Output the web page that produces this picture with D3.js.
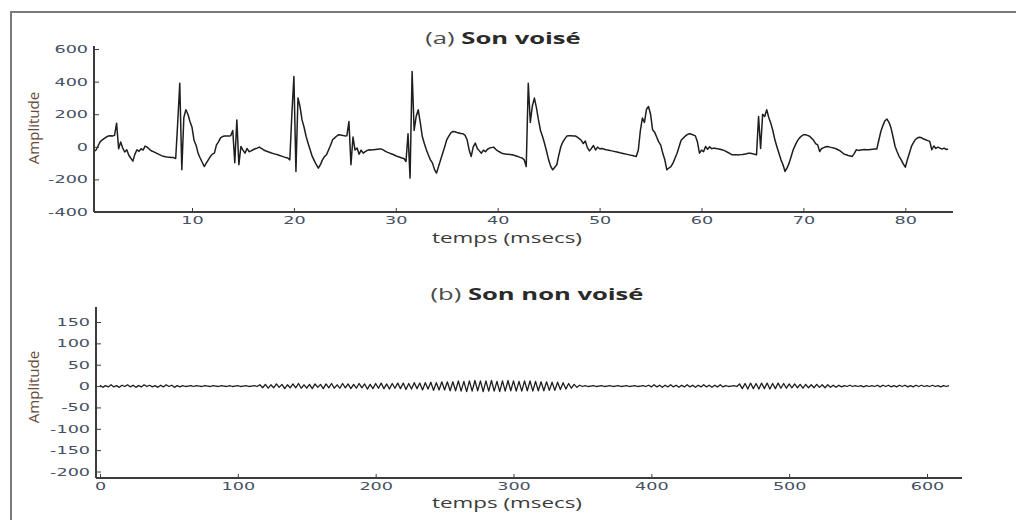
<!DOCTYPE html>
<html>
<head>
<meta charset="utf-8">
<script src="https://cdn.jsdelivr.net/npm/d3@7"></script>
<style>
  html, body { margin: 0; padding: 0; background: #fff; }
  svg { display: block; }
</style>
</head>
<body>
<svg id="chart" width="1016" height="520"></svg>
<script>
// ---- (a) voiced sound: samples every 0.2 ms starting at 0.4 ms ----
const voicedStartMs = 0.4;
const voicedStepMs = 0.2;
const voicedAmplitude = [
  -29, -18, 8, 32,
  43, 52, 60, 67, 68,
  66, 70, 145, -12, 30,
  -8, -32, -18, -52, -70,
  -88, -45, -18, -28, -12,
  -20, 4, -2, -14, -24,
  -30, -36, -42, -48, -54,
  -58, -61, -63, -64, -65,
  -66, -72, 150, 390, -141,
  180, 227, 200, 155, 120,
  40, 10, -40, -69, -95,
  -121, -100, -80, -60, -45,
  -39, 12, 30, 55, 63,
  66, 67, 67, 68, 100,
  -98, 165, -110, 2, -20,
  -39, -10, -30, -25, -18,
  -12, -8, -2, -10, -18,
  -24, -29, -33, -38, -42,
  -45, -49, -53, -57, -62,
  -66, -69, -80, 200, 431,
  -151, 300, 247, 165, 120,
  63, 20, -20, -59, -85,
  -110, -131, -110, -80, -60,
  -49, -20, 10, 43, 55,
  66, 74, 72, 70, 67,
  68, 155, -110, 60, -20,
  -8, -45, -20, -39, -30,
  -22, -18, -20, -18, -16,
  -15, -14, -14, -20, -28,
  -34, -39, -44, -49, -55,
  -60, -64, -69, -72, -90,
  80, -192, 462, 100, 186,
  227, 150, 63, 20, -18,
  -50, -80, -100, -140, -161,
  -120, -80, -40, 0, 43,
  65, 85, 94, 92, 88,
  85, 82, 80, 70, 43,
  -20, -59, 0, 23, -10,
  -25, -39, -20, -30, -15,
  -8, -5, -2, -15, -25,
  -32, -39, -42, -45, -46,
  -47, -49, -52, -56, -60,
  -65, -69, -80, -121, 390,
  150, 250, 299, 240, 165,
  100, 63, 20, -29, -80,
  -120, -141, -125, -110, -50,
  2, 30, 50, 67, 68,
  68, 67, 67, 60, 50,
  40, 20, 35, -5, -25,
  -10, 8, -20, -2, -12,
  -10, -14, -18, -20, -22,
  -25, -28, -31, -34, -37,
  -39, -42, -45, -48, -51,
  -54, -57, -59, -20, 100,
  176, 150, 230, 247, 200,
  104, 90, 60, 30, 10,
  -40, -80, -141, -130, -121,
  -100, -70, -39, 0, 40,
  53, 65, 75, 80, 78,
  72, 67, 30, -39, -20,
  -30, 2, -15, 0, -12,
  -8, -10, -12, -15, -18,
  -22, -28, -35, -42, -49,
  -49, -48, -50, -48, -47,
  -45, -43, -40, -39, -42,
  -46, -49, 186, -10, 200,
  186, 227, 180, 145, 100,
  43, 0, -40, -80, -110,
  -151, -130, -100, -60, -18,
  10, 35, 53, 65, 74,
  74, 70, 65, 53, 40,
  20, 12, -29, -10, -5,
  0, 2, -2, -5, -8,
  -12, -18, -25, -35, -45,
  -49, -53, -56, -59, -40,
  -18, -22, -20, -18, -17,
  -18, -18, -16, -15, -14,
  -14, 40, 94, 130, 160,
  170, 150, 115, 60, 2,
  -30, -60, -80, -105, -125,
  -80, -40, 2, 25, 45,
  55, 59, 55, 48, 43,
  38, 33, -18, 5, -10,
  -2, -8, -14, -8, -16,
  -14
];
const voicedYTicks = [-400, -200, 0, 200, 400, 600];
const voicedXTicks = [10, 20, 30, 40, 50, 60, 70, 80];

// ---- (b) unvoiced sound: samples every 2 ms starting at 0 ms ----
const unvoicedStartMs = 0;
const unvoicedStepMs = 2;
const unvoicedAmplitude = [
  2, -3, 1, -2, 3, -2, 1, -3, 2, -1,
  3, -2, 2, -3, 1, -2, 3, -1, 2, -2,
  1, -3, 2, -2, 3, -1, 2, -3, 1, -2,
  1, -1, 0, 1, -1, 1, 0, -1, 1, 0,
  -1, 1, 0, -1, 1, 0, -1, 1, -1, 0,
  1, -1, 0, 1, -1, 0, 1, -1, 3, -4,
  4, -5, 3, -4, 5, -3, 4, -6, 3, -4,
  5, -4, 6, -5, 3, -5, 4, -6, 5, -3,
  4, -6, 5, -4, 6, -5, 3, -5, 6, -4,
  5, -6, 4, -5, 6, -4, 5, -7, 4, -6,
  6, -5, 7, -6, 5, -7, 6, -5, 7, -6,
  7, -8, 6, -7, 8, -6, 7, -9, 8, -7,
  9, -10, 8, -9, 10, -9, 10, -11, 10, -11,
  12, -12, 11, -13, 12, -12, 13, -11, 12, -13,
  12, -12, 13, -12, 11, -13, 12, -12, 13, -11,
  12, -12, 11, -12, 12, -11, 12, -12, 11, -11,
  10, -11, 10, -10, 9, -10, 9, -8, 8, -7,
  6, -5, 4, -3, 2, -1, 1, -1, 0, 1,
  -1, 0, 1, -1, 0, 1, -1, 0, 1, -1,
  0, 1, -1, 0, 1, -1, 0, 1, -1, 2,
  -2, 3, -2, 2, -3, 2, -2, 3, -2, 2,
  -3, 2, -2, 3, -2, 2, -3, 2, -2, 3,
  -2, 2, -3, 2, -2, 3, -2, 1, -1, 0,
  1, -1, 5, -6, 6, -7, 7, -6, 6, -7,
  7, -6, 7, -7, 6, -6, 7, -5, 6, -5,
  5, -4, 5, -4, 4, -5, 4, -4, 3, -4,
  4, -3, 3, -4, 3, -3, 2, -3, 2, -2,
  1, -1, 2, -1, 1, -1, 1, -2, 1, -1,
  1, -1, 2, -2, 2, -1, 2, -2, 1, -2,
  2, -1, 2, -2, 1, -2, 2, -1, 2, -1,
  1, -1, 2, -1, 1, -2, 1, -1, 1
];
const unvoicedYTicks = [-200, -150, -100, -50, 0, 50, 100, 150];
const unvoicedXTicks = [0, 100, 200, 300, 400, 500, 600];

// ---- drawing ----
const svg = d3.select("#chart");
const AXIS = "#3c3c3c";
const TICK_TEXT = "#465064";
const STRETCH = 1.6;   // the whole figure is widened horizontally

// outer frame (cut at the right and bottom edges)
svg.append("path")
  .attr("d", "M11,520 V12 H1016")
  .attr("fill", "none")
  .attr("stroke", "#7a7a7a")
  .attr("stroke-width", 2);

function stretchedText(g, x, y, anchor, size, family, fill) {
  return g.append("text")
    .attr("transform", `translate(${x},${y}) scale(${STRETCH},1)`)
    .attr("text-anchor", anchor)
    .attr("font-family", family)
    .attr("font-size", size)
    .attr("fill", fill);
}

function panel(cfg) {
  const g = svg.append("g");
  const x = d3.scaleLinear().domain(cfg.xDomain).range(cfg.xRange);
  const y = d3.scaleLinear().domain(cfg.yDomain).range(cfg.yRange);

  // waveform
  const pts = cfg.values.map((v, i) => [cfg.t0 + i * cfg.dt, v]);
  g.append("path")
    .datum(pts)
    .attr("fill", "none")
    .attr("stroke", "#1e1e1e")
    .attr("stroke-width", cfg.lineWidth)
    .attr("stroke-linejoin", "round")
    .attr("d", d3.line().x(d => x(d[0])).y(d => y(d[1])));

  // y axis (tick labels keep a plain hyphen for negatives)
  const yAxis = g.append("g")
    .attr("transform", `translate(${cfg.yAxisX},0)`)
    .call(d3.axisLeft(y).tickValues(cfg.yTicks).tickFormat(d => String(d))
      .tickSizeInner(-5).tickSizeOuter(0).tickPadding(6));
  yAxis.select(".domain").remove();
  yAxis.selectAll(".tick line").attr("stroke", AXIS).attr("stroke-width", 1);
  yAxis.selectAll(".tick text")
    .attr("x", -6 / STRETCH)
    .attr("transform", `scale(${STRETCH},1)`)
    .attr("font-family", "DejaVu Sans")
    .attr("font-size", 11)
    .attr("fill", TICK_TEXT);
  g.append("line")
    .attr("x1", cfg.yAxisX).attr("x2", cfg.yAxisX)
    .attr("y1", cfg.yAxisTop).attr("y2", cfg.axisY)
    .attr("stroke", AXIS).attr("stroke-width", 2);

  // x axis
  const xAxis = g.append("g")
    .attr("transform", `translate(0,${cfg.axisY})`)
    .call(d3.axisBottom(x).tickValues(cfg.xTicks).tickFormat(d => String(d))
      .tickSizeInner(-4).tickSizeOuter(0).tickPadding(4));
  xAxis.select(".domain").remove();
  xAxis.selectAll(".tick line").attr("stroke", AXIS).attr("stroke-width", 1);
  xAxis.selectAll(".tick text")
    .attr("transform", `scale(${STRETCH},1)`)
    .attr("font-family", "DejaVu Sans")
    .attr("font-size", 11)
    .attr("fill", TICK_TEXT);
  g.append("line")
    .attr("x1", cfg.yAxisX).attr("x2", cfg.xAxisEnd)
    .attr("y1", cfg.axisY).attr("y2", cfg.axisY)
    .attr("stroke", AXIS).attr("stroke-width", 2);

  // title
  const t = stretchedText(g, cfg.titleX, cfg.titleY, "middle", 16, "Open Sans", "#2a2a2a");
  t.append("tspan").attr("fill", "#4a4a4a").text(cfg.titlePrefix + " ");
  t.append("tspan").attr("font-weight", "bold").text(cfg.titleMain);

  // axis titles
  stretchedText(g, cfg.xLabelX, cfg.xLabelY, "middle", 14, "Open Sans", "#3a3a3a")
    .text("temps (msecs)");
  g.append("text")
    .attr("transform", `translate(${cfg.yLabelX},${cfg.yLabelY}) rotate(-90)`)
    .attr("text-anchor", "middle")
    .attr("font-family", "Open Sans")
    .attr("font-size", 15)
    .attr("fill", "#6a4a3a")
    .text("Amplitude");
}

panel({
  values: voicedAmplitude, t0: voicedStartMs, dt: voicedStepMs,
  xDomain: [0, 80], xRange: [90.1, 905.3],
  yDomain: [-400, 600], yRange: [212, 49],
  xTicks: voicedXTicks, yTicks: voicedYTicks,
  yAxisX: 94, axisY: 212, yAxisTop: 46, xAxisEnd: 953,
  lineWidth: 1.5,
  titlePrefix: "(a)", titleMain: "Son voisé", titleX: 503, titleY: 44,
  xLabelX: 507, xLabelY: 243, yLabelX: 39, yLabelY: 128
});

panel({
  values: unvoicedAmplitude, t0: unvoicedStartMs, dt: unvoicedStepMs,
  xDomain: [0, 600], xRange: [100, 927],
  yDomain: [-200, 150], yRange: [471.5, 322],
  xTicks: unvoicedXTicks, yTicks: unvoicedYTicks,
  yAxisX: 96, axisY: 478, yAxisTop: 307, xAxisEnd: 962,
  lineWidth: 1.3,
  titlePrefix: "(b)", titleMain: "Son non voisé", titleX: 537, titleY: 300,
  xLabelX: 507, xLabelY: 508, yLabelX: 39, yLabelY: 387
});
</script>
</body>
</html>
